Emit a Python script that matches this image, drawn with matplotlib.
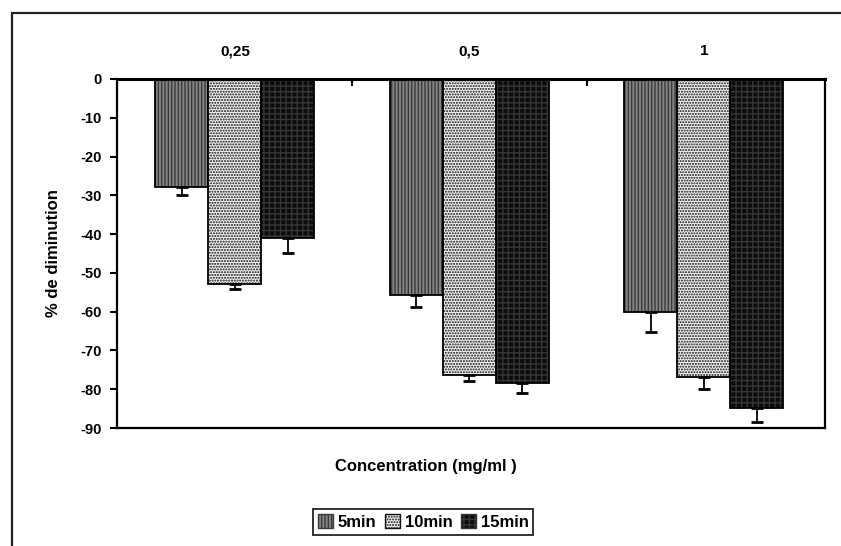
import numpy as np
import matplotlib
matplotlib.use('Agg')
import matplotlib.pyplot as plt
from matplotlib.patches import Patch, Rectangle

plt.rcParams['font.family'] = ['Liberation Sans', 'DejaVu Sans']
plt.rcParams['font.weight'] = 'bold'
plt.rcParams['hatch.linewidth'] = 1.0

# data
concentrations = ['0,25', '0,5', '1']
series = ['5min', '10min', '15min']
val_5min = [-27.8, -55.7, -60.0]
val_10min = [-52.9, -76.3, -76.8]
val_15min = [-41.1, -78.5, -84.9]
err_5min = [2.0, 3.1, 5.2]
err_10min = [1.2, 1.5, 3.2]
err_15min = [3.7, 2.4, 3.5]
y_ticks = [0, -10, -20, -30, -40, -50, -60, -70, -80, -90]

values = [val_5min, val_10min, val_15min]
errors = [err_5min, err_10min, err_15min]
faces = ['#858585', '#f2f2f2', '#0c0c0c']
hatch_cols = ['#3a3a3a', '#111111', '#363636']
hatches = ['|||||', '......', '+++']

fig = plt.figure(figsize=(8.41, 5.46), dpi=100)
ax = fig.add_axes([117/841, 1 - 428/546, (825-117)/841, (428-79)/546])

x = np.arange(len(concentrations))
w = 0.226
for i in range(3):
    pos = x + (i - 1) * w
    # hatch pass, then outline pass
    ax.bar(pos, values[i], w, color=faces[i], edgecolor=hatch_cols[i],
           hatch=hatches[i], linewidth=0, zorder=2)
    ax.bar(pos, values[i], w, fill=False, edgecolor='black', linewidth=1.3, zorder=3)
    lower = errors[i]
    ax.errorbar(pos, values[i], yerr=[lower, np.zeros(3)], fmt='none',
                ecolor='black', elinewidth=1.3, capsize=4, capthick=2, zorder=4)

ax.set_xlim(-0.503, 2.516)
ax.set_ylim(-90, 0)
ax.set_yticks(y_ticks)
ax.set_yticklabels([str(v) for v in y_ticks], fontsize=10.5, fontweight='bold')
ax.tick_params(axis='y', direction='out', length=5, width=1.5, pad=6)

ax.xaxis.tick_top()
ax.set_xticks(x)
ax.set_xticklabels(concentrations, fontsize=11, fontweight='bold')
ax.set_xticks([0.5, 1.5], minor=True)
ax.tick_params(axis='x', which='major', length=0, pad=15)
ax.tick_params(axis='x', which='minor', direction='in', length=5, width=1.5)

for s in ax.spines.values():
    s.set_linewidth(1.6)
ax.spines['top'].set_linewidth(2.2)

ax.set_ylabel('% de diminution', fontsize=12, fontweight='bold', labelpad=14)
fig.text(426/841, 1 - 467/546, 'Concentration (mg/ml )', ha='center', va='center',
         fontsize=12, fontweight='bold')

handles = [Patch(facecolor=faces[i], edgecolor=hatch_cols[i], hatch=hatches[i]) for i in range(3)]
leg = fig.legend(handles, series, loc='center', bbox_to_anchor=(423/841, 1 - 522/546),
                 ncol=3, frameon=True, fancybox=False, edgecolor='black',
                 handlelength=0.9, handleheight=0.9, handletextpad=0.3,
                 columnspacing=0.5, borderpad=0.3, prop={'weight': 'bold', 'size': 12})
leg.get_frame().set_linewidth(1.4)

# outer frame of the scanned figure
fig.patches.append(Rectangle((12/841, -0.05), 1.1, 1 - 13/546 + 0.05, transform=fig.transFigure,
                             fill=False, edgecolor='#222222', linewidth=1.6))

fig.savefig('out.png', dpi=100)
